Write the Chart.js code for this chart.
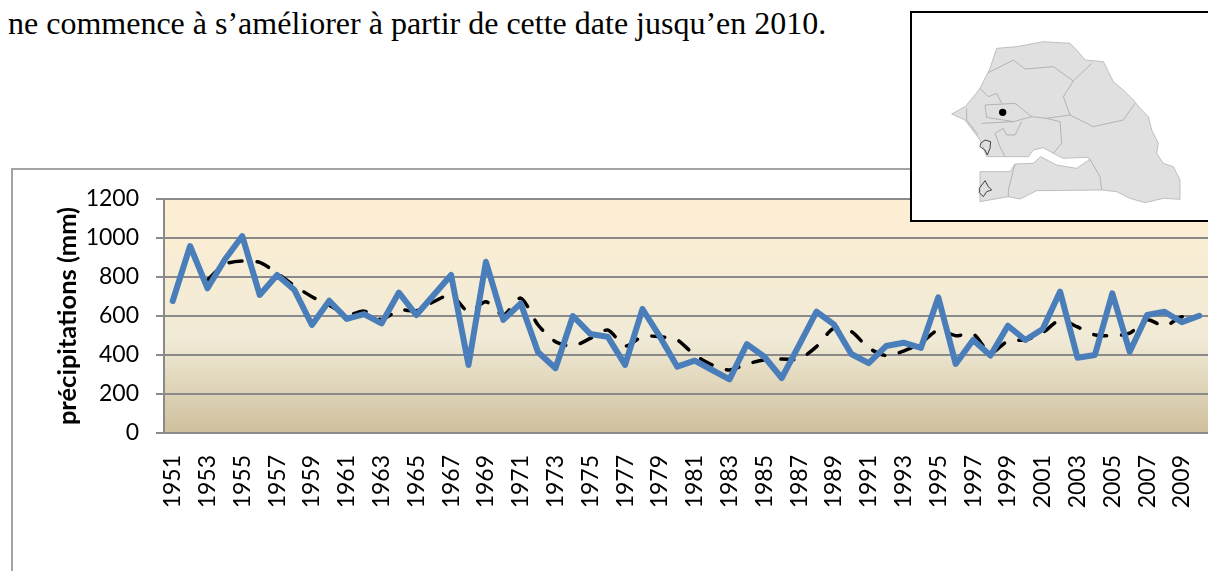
<!DOCTYPE html>
<html lang="fr"><head><meta charset="utf-8">
<style>
html,body{margin:0;padding:0;background:#fff;width:1208px;height:571px;overflow:hidden}
#wrap{position:relative;width:1208px;height:571px}
#frame{position:absolute;left:11px;top:168px;width:1197px;height:403px;border-left:2px solid #a3a3a3;border-top:2px solid #a3a3a3;box-sizing:border-box}
#para{position:absolute;left:8px;top:5px;font:32px "Liberation Serif",serif;color:#000;white-space:nowrap}
#c{position:absolute;left:0;top:0}
#inset{position:absolute;left:910px;top:11px;width:298px;height:211px;box-sizing:border-box;border:2px solid #000;border-right:none;background:#fff;overflow:hidden}
#inset svg{position:absolute;left:-12px;top:-13px}
</style></head><body>
<div id="wrap">
<div id="frame"></div>
<div id="para">ne commence à s’améliorer à partir de cette date jusqu’en 2010.</div>
<canvas id="c" width="1208" height="571"></canvas>
<div id="inset"><svg width="308" height="230" viewBox="0 0 924 690">
<path d="M155 342 L195 320 L225 285 L240 265 L270 205 L290 145 L350 140 L430 125 L510 130 L530 150 L555 180 L610 185 L625 215 L640 245 L670 270 L700 300 L720 325 L745 350 L755 390 L775 430 L770 460 L790 490 L820 500 L830 520 L840 540 L840 598 L790 595 L735 608 L690 595 L650 575 L605 570 L410 572 L360 597 L325 590 L240 605 L240 515 L330 515 L345 492 L400 490 L422 470 L470 495 L530 505 L570 478 L560 472 L490 475 L460 460 L430 443 L400 450 L385 470 L260 470 L240 420 L195 360 Z" fill="#e0e0e0" stroke="#b4b4b4" stroke-width="2.5" stroke-linejoin="round"/>
<g fill="none" stroke="#a9a9a9" stroke-width="2.5">
<path d="M265 218 L340 180 L375 207 L460 200 L520 243 L575 190"/>
<path d="M520 243 L490 290 L510 345 L580 380 L670 360 L705 310"/>
<path d="M510 345 L440 355 L395 350 L345 310 L255 315 L260 352 L340 365 L395 350"/>
<path d="M240 265 L265 290 L290 280 L305 310"/>
<path d="M200 325 L200 360 L235 405"/>
<path d="M245 370 L340 365"/>
<path d="M480 365 L485 430 L460 460 M480 365 L440 355"/>
<path d="M285 400 L310 385 L320 405 L345 405 L365 365"/>
<path d="M285 400 L300 440 L315 470"/>
<path d="M345 492 L325 570 L325 590"/>
<path d="M570 478 L600 530 L605 570"/>
</g>
<g fill="none" stroke="#222" stroke-width="2.5">
<path d="M242 430 L255 420 L272 425 L270 445 L262 465 L255 450 L240 440 Z"/>
<path d="M238 565 L255 542 L265 560 L275 570 L260 575 L250 590 L238 578 Z"/>
</g>
<circle cx="308" cy="337" r="11" fill="#000"/>
</svg></div>
</div>
<script src="https://cdn.jsdelivr.net/npm/chart.js@4"></script>
<script>
const years = [1951,1952,1953,1954,1955,1956,1957,1958,1959,1960,1961,1962,1963,1964,1965,1966,1967,1968,1969,1970,1971,1972,1973,1974,1975,1976,1977,1978,1979,1980,1981,1982,1983,1984,1985,1986,1987,1988,1989,1990,1991,1992,1993,1994,1995,1996,1997,1998,1999,2000,2001,2002,2003,2004,2005,2006,2007,2008,2009,2010];
const precipitations = [677,959,742,890,1010,708,810,733,554,678,585,610,562,720,605,708,810,349,878,580,665,414,332,600,508,494,349,636,494,340,371,323,275,456,391,282,451,622,557,405,358,446,463,436,696,354,477,397,550,477,533,725,386,400,716,417,605,622,568,601];
const moyenneMobile = [null,null,785,866,882,875,820,755,699,656,605,625,582,630,627,673,708,622,673,605,692,554,468,446,485,528,446,494,494,477,400,349,323,354,374,379,379,443,538,520,436,397,420,461,528,499,508,410,472,477,514,580,544,503,499,512,580,549,596,600];
const yTicks = [0,200,400,600,800,1000,1200];
const yTitle = 'précipitations (mm)';

const backdrop = {
  id:'backdrop',
  beforeDraw(chart){
    const {ctx,chartArea:a} = chart;
    const g = ctx.createLinearGradient(0,a.top,0,a.bottom);
    g.addColorStop(0,'#feefd3');
    g.addColorStop(0.6,'#f0ead6');
    g.addColorStop(1,'#cfc09d');
    ctx.save(); ctx.fillStyle = g;
    ctx.fillRect(a.left,a.top,a.right-a.left,a.bottom-a.top);
    ctx.restore();
  }
};
new Chart(document.getElementById('c'),{
  type:'line',
  data:{labels:years,datasets:[
    {label:'précipitations',data:precipitations,borderColor:'#4a7ebb',borderWidth:6,pointRadius:0,borderJoinStyle:'round',borderCapStyle:'round',tension:0,fill:false},
    {label:'moyenne mobile',data:moyenneMobile,borderColor:'#000',borderWidth:3.5,borderDash:[13,15],borderCapStyle:'round',pointRadius:0,tension:0.25,fill:false,spanGaps:false}
  ]},
  plugins:[backdrop],
  options:{
    responsive:false,animation:false,
    layout:{padding:{top:199,left:52,right:0,bottom:0}},
    plugins:{legend:{display:false},title:{display:false},tooltip:{enabled:false}},
    scales:{
      x:{type:'category',offset:true,
         grid:{display:false},
         border:{color:'#8a8a8a',width:2},
         afterFit(s){s.height=138;s.paddingRight=0;s.paddingLeft=0;},
         ticks:{autoSkip:false,minRotation:90,maxRotation:90,padding:14,color:'#000',font:{family:'Lato',size:23},
           callback(v,i){return i%2===0?this.getLabelForValue(v):null;}}},
      y:{min:0,max:1200,
         afterBuildTicks(s){s.ticks=yTicks.map(v=>({value:v}));},
         afterFit(s){s.width=112;},
         grid:{color:'#8a8a8a',lineWidth:2,tickLength:8,drawTicks:true},
         border:{color:'#8a8a8a',width:2},
         title:{display:true,text:yTitle,color:'#000',font:{family:'Lato',size:25.5,weight:'bold'},padding:{top:0,bottom:0}},
         ticks:{padding:17,color:'#000',font:{family:'Lato',size:23},callback(v){return String(v);}}}
    }
  }
});
</script>
</body></html>
